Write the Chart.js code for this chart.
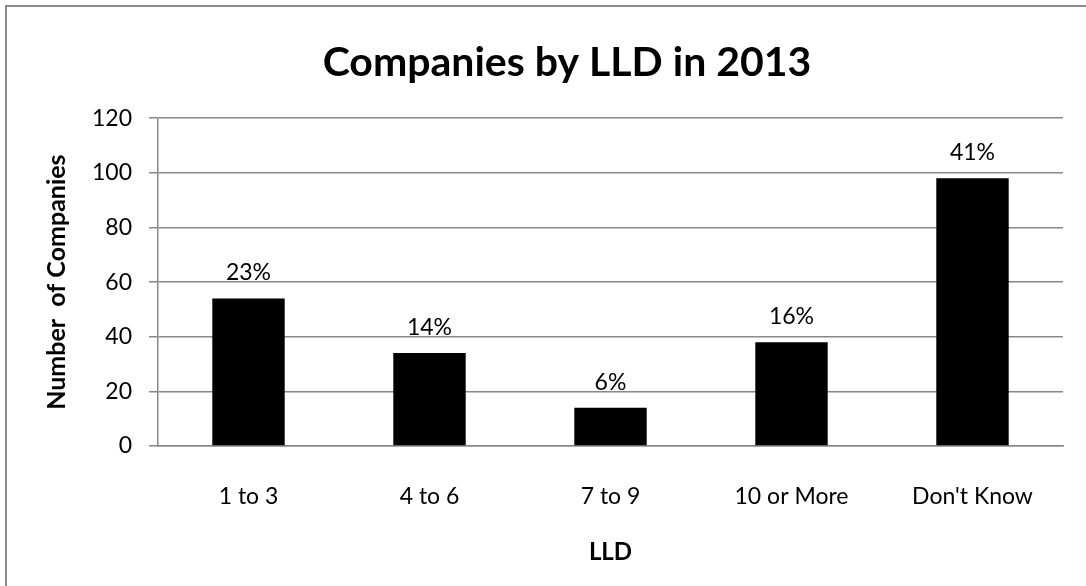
<!DOCTYPE html>
<html>
<head>
<meta charset="utf-8">
<title>Companies by LLD in 2013</title>
<script src="https://cdn.jsdelivr.net/npm/chart.js@4.4.1/dist/chart.umd.min.js"></script>
<style>
  html, body { margin: 0; padding: 0; background: #ffffff; }
  #wrap { position: relative; width: 1086px; height: 586px; overflow: hidden; }
  #frame {
    position: absolute; left: 5px; top: 5px; width: 1100px; height: 600px;
    border: 2px solid #8a8a8a; pointer-events: none;
  }
  canvas { position: absolute; left: 0; top: 0; }
</style>
</head>
<body>
<div id="wrap">
  <canvas id="chart" width="1086" height="586"></canvas>
  <div id="frame"></div>
</div>
<script>
// Number of companies for each LLD range
const categories = ['1 to 3', '4 to 6', '7 to 9', '10 or More', "Don't Know"];
const companyCounts = [54, 34, 14, 38, 98];
const yTickValues = [0, 20, 40, 60, 80, 100, 120];

const FONT = 'Lato, "Open Sans", "DejaVu Sans", sans-serif';
const GRID = '#888888';

const total = companyCounts.reduce((a, b) => a + b, 0);

// Writes each bar's share of all companies above it
const shareLabels = {
  id: 'shareLabels',
  afterDatasetsDraw(chart) {
    const ctx = chart.ctx;
    const meta = chart.getDatasetMeta(0);
    ctx.save();
    ctx.fillStyle = '#000000';
    ctx.font = '23px ' + FONT;
    ctx.textAlign = 'center';
    ctx.textBaseline = 'alphabetic';
    meta.data.forEach((bar, i) => {
      const pct = Math.round(companyCounts[i] / total * 100) + '%';
      ctx.fillText(pct, bar.x, bar.y - 18);
    });
    ctx.restore();
  }
};

// The chart frame runs past the right edge, so the title sits a little right of the canvas middle
const titleSpan = {
  id: 'titleSpan',
  afterLayout(chart) {
    const tb = chart.titleBlock;
    if (tb) { tb.left = 48; tb.right = 1086; }
  }
};

new Chart(document.getElementById('chart'), {
  type: 'bar',
  data: {
    labels: categories,
    datasets: [{
      label: 'Companies',
      data: companyCounts,
      backgroundColor: '#000000',
      borderWidth: 0,
      barPercentage: 0.4,
      categoryPercentage: 1.0
    }]
  },
  options: {
    responsive: false,
    animation: false,
    devicePixelRatio: 1,
    layout: { padding: { left: 0, right: 23, top: 0, bottom: 0 } },
    plugins: {
      legend: { display: false },
      tooltip: { enabled: false },
      title: {
        display: true,
        text: 'Companies by LLD in 2013',
        color: '#000000',
        font: { family: FONT, size: 41, weight: 'bold', lineHeight: 1.2 },
        padding: { top: 38, bottom: 31 }
      }
    },
    scales: {
      x: {
        grid: { display: false, drawTicks: false },
        border: { display: true, color: GRID, width: 1.5 },
        ticks: {
          color: '#000000',
          font: { family: FONT, size: 23 },
          padding: 37,
          maxRotation: 0
        },
        title: {
          display: true,
          text: 'LLD',
          color: '#000000',
          font: { family: FONT, size: 24, weight: 'bold' },
          padding: { top: 0, bottom: 19 }
        },
        afterFit(scale) { scale.height = 140; }
      },
      y: {
        min: 0,
        max: 120,
        afterBuildTicks(scale) {
          scale.ticks = yTickValues.map(v => ({ value: v }));
        },
        grid: { color: GRID, lineWidth: 1.5, drawTicks: true, tickLength: 9, tickColor: GRID },
        border: { display: true, color: GRID, width: 1.5 },
        ticks: {
          color: '#000000',
          font: { family: FONT, size: 23 },
          padding: 17
        },
        title: {
          display: true,
          text: 'Number  of Companies',
          color: '#000000',
          font: { family: FONT, size: 25, weight: 'bold' },
          padding: { top: 42, bottom: 0 }
        },
        afterFit(scale) { scale.width = 158; }
      }
    }
  },
  plugins: [shareLabels, titleSpan]
});
</script>
</body>
</html>
